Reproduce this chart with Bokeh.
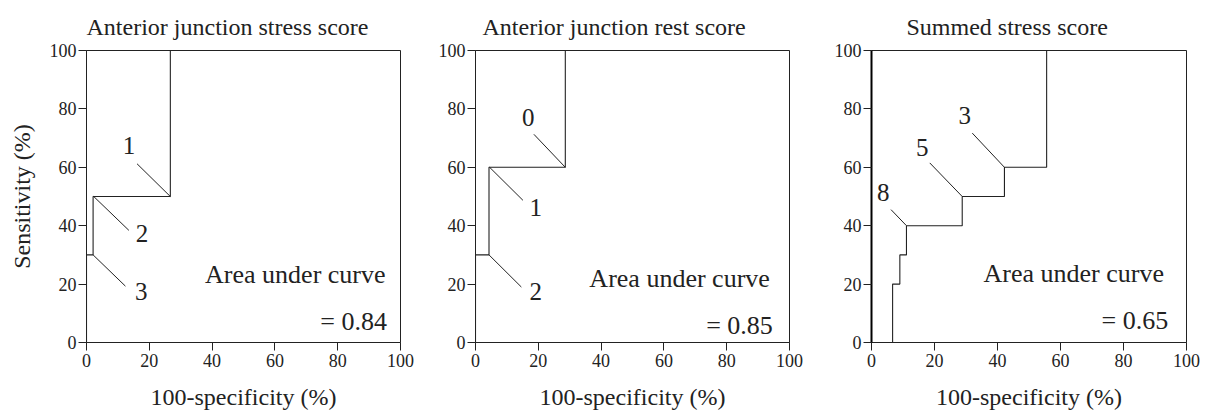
from bokeh.plotting import figure
from bokeh.layouts import row
from bokeh.models import Range1d, FixedTicker, Title
from bokeh.core.properties import value
from bokeh.embed import file_html
from bokeh.resources import INLINE

# ---- data ----
titles = ["Anterior junction stress score", "Anterior junction rest score", "Summed stress score"]
x_label = "100-specificity (%)"
y_label = "Sensitivity (%)"
ticks = [0, 20, 40, 60, 80, 100]

fpr1 = [0, 0, 2.1, 2.1, 26.7, 26.7, 100]
tpr1 = [0, 30, 30, 50, 50, 100, 100]
fpr2 = [0, 0, 4.3, 4.3, 28.6, 28.6, 100]
tpr2 = [0, 30, 30, 60, 60, 100, 100]
fpr3 = [0, 6.7, 6.7, 9.0, 9.0, 11.1, 11.1, 28.8, 28.8, 42.2, 42.2, 55.6, 55.6, 100]
tpr3 = [0, 0, 20, 20, 30, 30, 40, 40, 50, 50, 60, 60, 100, 100]

cut_labels1 = ["1", "2", "3"]
cut_labels2 = ["0", "1", "2"]
cut_labels3 = ["3", "5", "8"]
auc_values = ["= 0.84", "= 0.85", "= 0.65"]

# ---- annotation placement (data units) ----
# (text x, text y, line x0, line y0, line x1, line y1)
ann1 = [(13.5, 67.5, 16.1, 61.2, 26.7, 50.0),
        (17.7, 37.3, 2.3, 50.0, 13.5, 38.4),
        (17.4, 17.3, 2.1, 30.0, 12.4, 19.3)]
ann2 = [(16.8, 77.2, 18.6, 71.3, 28.6, 60.0),
        (19.2, 46.4, 4.5, 60.0, 15.1, 48.7),
        (19.2, 17.3, 4.3, 30.0, 14.6, 19.0)]
ann3 = [(29.6, 77.8, 32.0, 71.7, 42.2, 60.0),
        (16.1, 66.9, 18.5, 61.5, 28.8, 50.0),
        (3.7, 51.2, 6.2, 45.5, 11.1, 40.0)]
auc_pos = [(66.5, 23.4, 95.7, 7.1), (65.0, 21.9, 94.7, 5.9), (64.2, 23.6, 94.2, 7.6)]

FONT = "Liberation Serif"
INK = "#222222"

def make_panel(i, fpr, tpr, labels, ann, width, left, title_offset, show_ylabel, yaxis_w=1):
    p = figure(width=width, height=416, output_backend="svg", toolbar_location=None,
               x_range=Range1d(0, 100), y_range=Range1d(0, 100),
               min_border_left=left, min_border_right=14, min_border_top=50, min_border_bottom=74,
               title=titles[i])
    p.title.text_font = FONT
    p.title.text_font_size = "24px"
    p.title.text_font_style = "normal"
    p.title.text_color = INK
    p.title.align = "left"
    p.title.offset = title_offset
    p.title.standoff = 21
    p.grid.visible = False
    p.outline_line_color = INK
    p.outline_line_width = 1
    p.background_fill_color = "white"
    p.border_fill_color = "white"
    for ax in (p.xaxis, p.yaxis):
        ax.ticker = FixedTicker(ticks=ticks)
        ax.axis_line_color = INK
        ax.major_tick_line_color = INK
        ax.minor_tick_line_color = None
        ax.major_tick_in = 0
        ax.major_tick_out = 8
        ax.major_label_text_font = FONT
        ax.major_label_text_font_size = "18px"
        ax.major_label_text_color = INK
        ax.axis_label_text_font = FONT
        ax.axis_label_text_font_size = "24px"
        ax.axis_label_text_font_style = "normal"
        ax.axis_label_text_color = INK
    p.xaxis.major_label_standoff = 3
    p.yaxis.major_label_standoff = 2
    p.yaxis.axis_line_width = yaxis_w
    p.yaxis.axis_line_color = "black" if yaxis_w > 1 else INK
    p.xaxis.axis_label = x_label
    p.xaxis.axis_label_standoff = 14
    if show_ylabel:
        p.yaxis.axis_label = y_label
        p.yaxis.axis_label_standoff = 12

    p.line(fpr, tpr, line_color=INK, line_width=1.1)

    tx = [a[0] for a in ann]
    ty = [a[1] for a in ann]
    p.text(tx, ty, text=labels, text_font=value(FONT), text_font_size="25px",
           text_align="center", text_baseline="middle", text_color=INK)
    p.segment([a[2] for a in ann], [a[3] for a in ann], [a[4] for a in ann], [a[5] for a in ann],
              line_color=INK, line_width=1)

    cx, cy, vx, vy = auc_pos[i]
    p.text([cx], [cy], text=["Area under curve"], text_font=value(FONT), text_font_size="26px",
           text_align="center", text_baseline="middle", text_color=INK)
    p.text([vx], [vy], text=[auc_values[i]], text_font=value(FONT), text_font_size="26px",
           text_align="right", text_baseline="middle", text_color=INK)
    return p

p1 = make_panel(0, fpr1, tpr1, cut_labels1, ann1, 414, 86, 0, True)
p2 = make_panel(1, fpr2, tpr2, cut_labels2, ann2, 389, 61, 7, False)
p3 = make_panel(2, fpr3, tpr3, cut_labels3, ann3, 397, 68, 35, False, yaxis_w=2)

layout = row(p1, p2, p3)
open("out.html", "w").write(file_html(layout, INLINE))
